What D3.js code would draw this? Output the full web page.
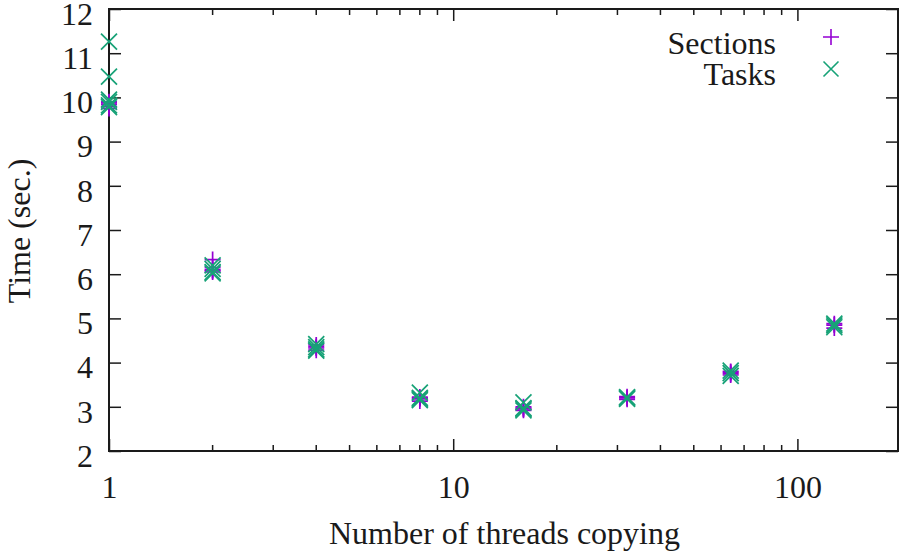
<!DOCTYPE html>
<html>
<head>
<meta charset="utf-8">
<script src="https://cdn.jsdelivr.net/npm/d3@7"></script>
<style>
  html, body { margin: 0; padding: 0; background: #fff; }
  svg { display: block; }
  text { font-family: "Liberation Serif", "DejaVu Serif", serif; fill: #1a1a1a; }
</style>
</head>
<body>
<svg id="chart" width="899" height="557"></svg>
<script>
// Thread counts tested and the measured run times (seconds) for each count
const threads = [1, 2, 4, 8, 16, 32, 64, 128];
const sectionsTimes = [
  [9.8, 9.85, 9.9, 9.75, 9.88],
  [6.33, 6.15, 6.1, 6.08, 6.05],
  [4.4, 4.33, 4.28, 4.36],
  [3.13, 3.18, 3.2, 3.22],
  [2.92, 2.95, 3.0, 2.97],
  [3.17, 3.2, 3.23],
  [3.72, 3.78, 3.8, 3.75],
  [4.78, 4.85, 4.88]
];
const tasksTimes = [
  [11.26, 10.47, 9.78, 9.82, 9.9, 9.95],
  [6.2, 6.12, 6.05, 6.02],
  [4.42, 4.35, 4.27, 4.3],
  [3.32, 3.2, 3.15, 3.18],
  [3.1, 2.95, 2.92, 2.97],
  [3.18, 3.22, 3.2],
  [3.7, 3.76, 3.82],
  [4.8, 4.84, 4.88]
];
const xTicks = [1, 10, 100];
const yTicks = [2, 3, 4, 5, 6, 7, 8, 9, 10, 11, 12];
const seriesNames = ["Sections", "Tasks"];
const seriesColors = ["#9400d3", "#17a277"];

const svg = d3.select("#chart");
const plotLeft = 109, plotRight = 898, plotTop = 9, plotBottom = 451;

const x = d3.scaleLog().domain([1, 196]).range([plotLeft, plotRight]);
const y = d3.scaleLinear().domain([2, 12]).range([plotBottom, plotTop]);

const axisColor = "#1a1a1a";
const fontSize = 32;

// Minor ticks on the log axis (2..9 of each decade)
const minorX = [];
for (let d = 1; d <= 100; d *= 10) {
  for (let m = 2; m <= 9; m++) {
    const v = m * d;
    if (v < 196) minorX.push(v);
  }
}

const g = svg.append("g");

// Bottom and top x axes, left and right y axes (ticks point inward)
const xAxisBottom = d3.axisBottom(x).tickValues(xTicks).tickFormat(d3.format("d")).tickSizeInner(-12).tickSizeOuter(0).tickPadding(24);
const xAxisTop = d3.axisTop(x).tickValues(xTicks).tickFormat("").tickSizeInner(-12).tickSizeOuter(0);
const yAxisLeft = d3.axisLeft(y).tickValues(yTicks).tickFormat(d3.format("d")).tickSizeInner(-12).tickSizeOuter(0).tickPadding(16);
const yAxisRight = d3.axisRight(y).tickValues(yTicks).tickFormat("").tickSizeInner(-12).tickSizeOuter(0);

function styleAxis(sel) {
  sel.selectAll("path").remove();
  sel.selectAll("line").attr("stroke", axisColor).attr("stroke-width", 1.5);
  sel.selectAll("text").attr("font-size", fontSize).attr("fill", "#1a1a1a")
    .style("font-family", '"Liberation Serif", serif');
}

g.append("g").attr("transform", `translate(0,${plotBottom})`).call(xAxisBottom).call(styleAxis);
g.append("g").attr("transform", `translate(0,${plotTop})`).call(xAxisTop).call(styleAxis);
g.append("g").attr("transform", `translate(${plotLeft},0)`).call(yAxisLeft).call(styleAxis)
  .selectAll("text").attr("dy", "0.48em");
g.append("g").attr("transform", `translate(${plotRight},0)`).call(yAxisRight).call(styleAxis);

// Minor ticks, bottom and top
g.append("g").selectAll("line").data(minorX).join("line")
  .attr("x1", d => x(d)).attr("x2", d => x(d))
  .attr("y1", plotBottom).attr("y2", plotBottom - 6)
  .attr("stroke", axisColor).attr("stroke-width", 1.5);
g.append("g").selectAll("line").data(minorX).join("line")
  .attr("x1", d => x(d)).attr("x2", d => x(d))
  .attr("y1", plotTop).attr("y2", plotTop + 6)
  .attr("stroke", axisColor).attr("stroke-width", 1.5);

// Plot frame
g.append("rect")
  .attr("x", plotLeft).attr("y", plotTop)
  .attr("width", plotRight - plotLeft).attr("height", plotBottom - plotTop)
  .attr("fill", "none").attr("stroke", axisColor).attr("stroke-width", 2);

// Axis titles
svg.append("text")
  .attr("x", (plotLeft + plotRight) / 2 + 1).attr("y", 544)
  .attr("text-anchor", "middle").attr("font-size", fontSize)
  .text("Number of threads copying");
svg.append("text")
  .attr("transform", "translate(30,231) rotate(-90)")
  .attr("text-anchor", "middle").attr("font-size", fontSize)
  .text("Time (sec.)");

// Point markers
const plusPath = s => `M${-s},0H${s}M0,${-s}V${s}`;
const crossPath = s => `M${-s},${-s}L${s},${s}M${-s},${s}L${s},${-s}`;

function flatten(times) {
  const out = [];
  threads.forEach((t, i) => times[i].forEach(v => out.push({ t, v })));
  return out;
}

const plusSize = 8, crossSize = 8;
const plots = [
  { data: flatten(sectionsTimes), path: plusPath(plusSize), color: seriesColors[0] },
  { data: flatten(tasksTimes), path: crossPath(crossSize), color: seriesColors[1] }
];

plots.forEach(p => {
  g.append("g").selectAll("path").data(p.data).join("path")
    .attr("transform", d => `translate(${x(d.t)},${y(d.v)})`)
    .attr("d", p.path)
    .attr("fill", "none")
    .attr("stroke", p.color)
    .attr("stroke-width", 1.7);
});

// Legend
const legend = svg.append("g");
const legendRows = [
  { name: seriesNames[0], path: plusPath(plusSize), color: seriesColors[0], y: 37, base: 54 },
  { name: seriesNames[1], path: crossPath(7.5), color: seriesColors[1], y: 69, base: 85 }
];
legendRows.forEach(r => {
  legend.append("text")
    .attr("x", 776).attr("y", r.base)
    .attr("text-anchor", "end").attr("font-size", fontSize)
    .text(r.name);
  legend.append("path")
    .attr("transform", `translate(831,${r.y})`)
    .attr("d", r.path).attr("fill", "none")
    .attr("stroke", r.color).attr("stroke-width", 1.6);
});
</script>
</body>
</html>
